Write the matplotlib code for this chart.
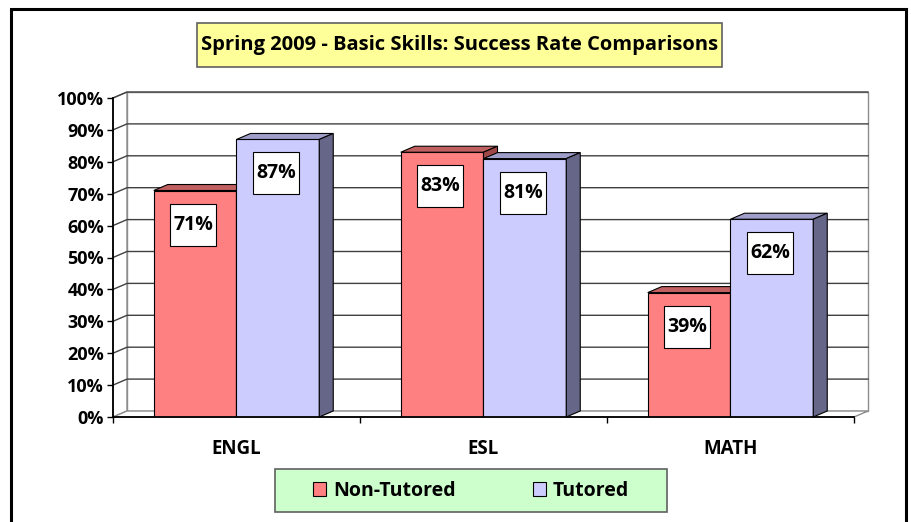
import matplotlib
matplotlib.use('Agg')
import matplotlib.pyplot as plt
from matplotlib.patches import Polygon, Rectangle

# ---- data ----
categories = ['ENGL', 'ESL', 'MATH']
series_names = ['Non-Tutored', 'Tutored']
non_tutored = [0.71, 0.83, 0.39]
tutored = [0.87, 0.81, 0.62]
y_ticks = [0.0, 0.1, 0.2, 0.3, 0.4, 0.5, 0.6, 0.7, 0.8, 0.9, 1.0]
y_tick_labels = ['0%', '10%', '20%', '30%', '40%', '50%', '60%', '70%', '80%', '90%', '100%']
title = 'Spring 2009 - Basic Skills: Success Rate Comparisons'

plt.rcParams['font.family'] = ['Open Sans', 'DejaVu Sans']
plt.rcParams['font.weight'] = 'bold'

W, H = 912, 522
fig = plt.figure(figsize=(W / 100, H / 100), dpi=100)
fig.patch.set_facecolor('white')

# front plane in pixels
X0, X1 = 113, 854
Y0, Y1 = 417, 98
ax = fig.add_axes([X0 / W, 1 - Y0 / H, (X1 - X0) / W, (Y0 - Y1) / H])
ax.set_xlim(0, 3)
ax.set_ylim(0, 1)
ax.set_facecolor('none')
pxx = 3 / (X1 - X0)
pxy = 1 / (Y0 - Y1)
DX = 14 * pxx
DY = 6 * pxy

wall_edge = '#8c8c8c'
grid_col = '#404040'
# back wall
ax.add_patch(Rectangle((DX, DY), 3, 1, facecolor='white', edgecolor=wall_edge, lw=1.0, zorder=0.5, clip_on=False))
# side wall
ax.add_patch(Polygon([(0, 0), (DX, DY), (DX, 1 + DY), (0, 1)], closed=True, facecolor='white',
                     edgecolor=wall_edge, lw=1.0, zorder=0.5, clip_on=False))
# floor
ax.add_patch(Polygon([(0, 0), (3, 0), (3 + DX, DY), (DX, DY)], closed=True, facecolor='white',
                     edgecolor=wall_edge, lw=1.0, zorder=0.5, clip_on=False))
# gridlines
for v in y_ticks[1:]:
    ax.plot([0, DX, 3 + DX], [v, v + DY, v + DY], color=grid_col, lw=1.0, zorder=0.6, clip_on=False,
            solid_joinstyle='miter')

# bars
n = len(categories)
w = 0.335
centers = [i + 0.5 for i in range(n)]
red_front, red_top, red_side = '#FF8080', '#C06060', '#A04848'
blu_front, blu_top, blu_side = '#CCCCFF', '#9E9EC8', '#666688'

series = [(non_tutored, -w, (red_front, red_top, red_side), 3),
          (tutored, 0.0, (blu_front, blu_top, blu_side), 4)]
bar_handles = []
for vals, off, (cf, ct, cs), z in series:
    xs = [c + off for c in centers]
    bars = ax.bar(xs, vals, width=w, align='edge', color=cf, edgecolor='black', lw=0.8, zorder=z)
    bar_handles.append(bars)
    for x0, v in zip(xs, vals):
        x1 = x0 + w
        ax.add_patch(Polygon([(x0, v), (x1, v), (x1 + DX, v + DY), (x0 + DX, v + DY)], closed=True,
                             facecolor=ct, edgecolor='black', lw=0.8, zorder=z, clip_on=False))
        ax.add_patch(Polygon([(x1, 0), (x1, v), (x1 + DX, v + DY), (x1 + DX, DY)], closed=True,
                             facecolor=cs, edgecolor='black', lw=0.8, zorder=z, clip_on=False))
        # value label
        cx = x0 + w / 2 - 2 * pxx
        cy = v - 34 * pxy
        bw, bh = 46 * pxx, 42 * pxy
        ax.add_patch(Rectangle((cx - bw / 2, cy - bh / 2), bw, bh, facecolor='white', edgecolor='black',
                               lw=0.8, zorder=5, clip_on=False))
        ax.text(cx, cy, f'{round(v * 100):d}%', ha='center', va='center', fontsize=14,
                fontweight='bold', zorder=6)

# axes / ticks
for s in ['top', 'right']:
    ax.spines[s].set_visible(False)
ax.spines['left'].set_color('black')
ax.spines['left'].set_linewidth(1.3)
ax.spines['bottom'].set_color('black')
ax.spines['bottom'].set_linewidth(1.3)
ax.spines['left'].set_zorder(7)
ax.spines['bottom'].set_zorder(7)

ax.set_yticks(y_ticks, y_tick_labels)
ax.tick_params(axis='y', length=4.5, width=1.0, pad=2, labelsize=13, colors='black')
ax.set_xticks(centers, categories)
ax.set_xticks([0, 1, 2, 3], minor=True)
ax.tick_params(axis='x', which='major', length=0, pad=16, labelsize=13.5)
ax.tick_params(axis='x', which='minor', length=4.5, width=1.0)
for lab in ax.get_xticklabels() + ax.get_yticklabels():
    lab.set_fontweight('bold')

# title box
fig.patches.append(Rectangle((197 / W, 1 - 67 / H), (722 - 197) / W, (67 - 23) / H, transform=fig.transFigure,
                             facecolor='#FFFF99', edgecolor='#606060', lw=1.2))
fig.text((197 + 722) / 2 / W, 1 - 45 / H, title, ha='center', va='center', fontsize=14.5, fontweight='bold')

# legend box
fig.patches.append(Rectangle((275 / W, 1 - 512 / H), (667 - 275) / W, (512 - 469) / H, transform=fig.transFigure,
                             facecolor='#CCFFCC', edgecolor='#606060', lw=1.2))
leg = fig.legend([bar_handles[0][0], bar_handles[1][0]], series_names, loc='center',
                 bbox_to_anchor=((275 + 667) / 2 / W, 1 - 491 / H), ncol=2, frameon=False,
                 handlelength=0.7, handleheight=0.7, handletextpad=0.35,
                 columnspacing=3.95, prop={'weight': 'bold', 'size': 14})

# outer border
fig.patches.append(Rectangle((11 / W, -0.05), (906 - 11) / W, 1 - 9 / H + 0.05, transform=fig.transFigure,
                             fill=False, edgecolor='black', lw=2.2, clip_on=False))

fig.savefig('out.png', dpi=100)
